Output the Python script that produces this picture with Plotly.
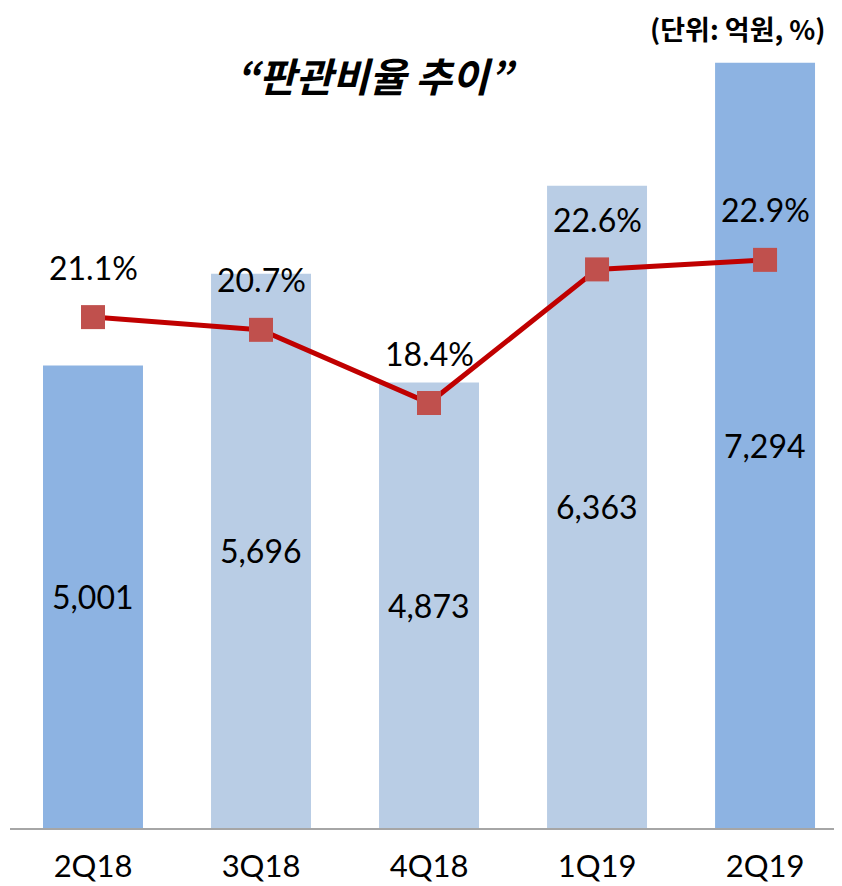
import plotly.graph_objects as go

categories = ["2Q18", "3Q18", "4Q18", "1Q19", "2Q19"]
sga_expense = [5001, 5696, 4873, 6363, 7294]
sga_ratio = [21.1, 20.7, 18.4, 22.6, 22.9]
ratio_labels = ["21.1%", "20.7%", "18.4%", "22.6%", "22.9%"]
bar_colors = ["#8DB3E2", "#B9CDE5", "#B9CDE5", "#B9CDE5", "#8DB3E2"]

Y_MIN, Y_MAX = 1500, 7617
FONT = "Lato, 'Noto Sans CJK KR', sans-serif"
KFONT = "'Noto Sans CJK KR', sans-serif"

fig = go.Figure()
fig.add_trace(go.Bar(
    x=categories, y=sga_expense,
    marker=dict(color=bar_colors, line=dict(width=0)),
    hoverinfo="skip",
))
# value labels centred in the visible part of each bar
for c, v in zip(categories, sga_expense):
    fig.add_annotation(x=c, y=(v + Y_MIN) / 2, yref="y", text=f"{v:,}", showarrow=False,
                       yanchor="middle", font=dict(family=FONT, size=32, color="black"))

fig.add_trace(go.Scatter(
    x=categories, y=sga_ratio, yaxis="y2", mode="lines+markers",
    line=dict(color="#C00000", width=5),
    marker=dict(symbol="square", size=24, color="#C0504D"),
    hoverinfo="skip",
))
for c, v, t in zip(categories, sga_ratio, ratio_labels):
    fig.add_annotation(x=c, y=v, yref="y2", text=t, showarrow=False, yshift=50,
                       font=dict(family=FONT, size=32, color="black"))

# page offset of 8px (browser body margin) is compensated in margins
fig.add_annotation(xref="paper", yref="paper", x=0.44, y=1.0, yshift=-55, yanchor="middle",
                   text="<b><i>“판관비율 추이”</i></b>", showarrow=False,
                   font=dict(family=KFONT, size=40, color="black"))
fig.add_annotation(xref="paper", yref="paper", x=0.983, xanchor="right", y=1.0, yshift=-8,
                   yanchor="middle",
                   text="<b>(단위: 억원, %)</b>", showarrow=False,
                   font=dict(family=KFONT, size=27, color="black"))

fig.update_layout(
    width=842, height=886,
    margin=dict(l=2, r=8, t=12, b=66),
    paper_bgcolor="white", plot_bgcolor="white",
    showlegend=False, bargap=0.405,
    xaxis=dict(range=[-0.494, 4.458], showline=True, linecolor="#A6A6A6", linewidth=2,
               showgrid=False, ticks="", ticklabelstandoff=10,
               tickfont=dict(family=FONT, size=31, color="black")),
    yaxis=dict(range=[Y_MIN, Y_MAX], visible=False, showgrid=False),
    yaxis2=dict(range=[5.04, 30.44], overlaying="y", visible=False, showgrid=False),
)
fig.write_html("out.html")
